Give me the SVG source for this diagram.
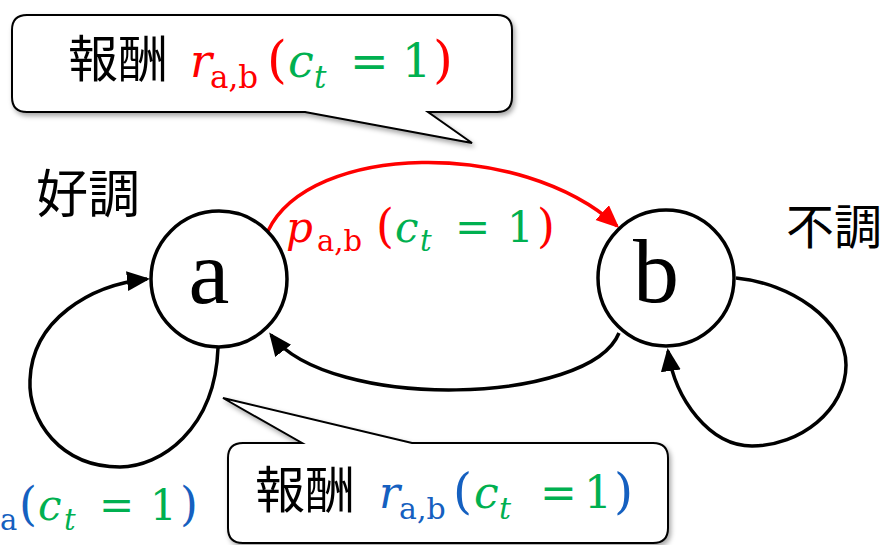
<svg xmlns="http://www.w3.org/2000/svg" width="895" height="545" viewBox="0 0 895 545">
<defs>
<style>
.node{fill:#fff;stroke:#000;stroke-width:3.5}
.lbl{font-family:"Liberation Serif",serif;fill:#000}
.jp{font-family:"Noto Sans CJK JP","Noto Sans",sans-serif;fill:#000}
.m{font-family:"DejaVu Serif","Liberation Serif",serif}
.it{font-style:italic}
.red{fill:#FF0000}.grn{fill:#00B050}.blu{fill:#1560C0}
.edge{fill:none;stroke:#000;stroke-width:3.5}
.callout{fill:#fff;stroke:#000;stroke-width:2;filter:url(#sh)}
</style>
<filter id="sh" x="-10%" y="-10%" width="125%" height="135%">
<feDropShadow dx="2" dy="3" stdDeviation="2.5" flood-color="#000" flood-opacity="0.35"/>
</filter>
<marker id="ab" markerUnits="userSpaceOnUse" markerWidth="26" markerHeight="22" refX="20" refY="10" orient="auto">
<path d="M0,0 L23,10 L0,20 z" fill="#000"/>
</marker>
<marker id="ar" markerUnits="userSpaceOnUse" markerWidth="26" markerHeight="22" refX="20" refY="10" orient="auto">
<path d="M0,0 L23,10 L0,20 z" fill="#FF0000"/>
</marker>
</defs>
<rect width="895" height="545" fill="#fff"/>

<g id="connectors">
<path id="e-ab" d="M268 231 C310 143 520 138 617 226" fill="none" stroke="#FF0000" stroke-width="3.5" marker-end="url(#ar)"/>
<path id="e-ba" class="edge" d="M619 333 C590 405 330 412 271 335" marker-end="url(#ab)"/>
<path id="e-aa" class="edge" d="M218 348 C215 430 160 467 120 467 C60 467 28 420 30 380 C32 320 90 285 147 279" marker-end="url(#ab)"/>
<path id="e-bb" class="edge" d="M736 278 C790 283 846 320 846 365 C846 410 800 446 752 446 C710 446 675 400 668 351" marker-end="url(#ab)"/>
</g>

<g id="node-a">
<circle class="node" cx="219" cy="279" r="68"/>
<text class="lbl" x="209" y="303" font-size="92" text-anchor="middle">a</text>
</g>
<g id="node-b">
<circle class="node" cx="666" cy="278" r="68"/>
<text class="lbl" x="656" y="302" font-size="92" text-anchor="middle">b</text>
</g>

<g id="label-good"><text class="jp" x="36" y="213" font-size="52">好調</text></g>
<g id="label-bad"><text class="jp" x="786" y="244" font-size="48">不調</text></g>

<g id="label-pab">
<text class="m" font-size="42">
<tspan class="it red" x="286" y="242">p</tspan><tspan class="red" x="317" y="251" font-size="29">a,b</tspan><tspan class="red" x="376" y="242" font-size="46">(</tspan><tspan class="it grn" x="395" y="242">c</tspan><tspan class="it grn" x="420" y="251" font-size="29">t</tspan><tspan class="grn" x="455" y="242">=</tspan><tspan class="grn" x="507" y="242">1</tspan><tspan class="red" x="537" y="242" font-size="46">)</tspan>
</text>
</g>

<g id="label-aa">
<text class="m" font-size="42">
<tspan class="blu" x="0" y="530" font-size="29">a</tspan><tspan class="blu" x="19" y="520" font-size="46">(</tspan><tspan class="it grn" x="38" y="520">c</tspan><tspan class="it grn" x="64" y="530" font-size="29">t</tspan><tspan class="grn" x="99" y="520">=</tspan><tspan class="grn" x="150" y="520">1</tspan><tspan class="blu" x="180" y="520" font-size="46">)</tspan>
</text>
</g>

<g id="callout-top">
<path class="callout" d="M27 15 H497 Q512 15 512 30 V97 Q512 112 497 112 H428 L472 143 L305 112 H27 Q12 112 12 97 V30 Q12 15 27 15 Z"/>
<text class="jp" x="68" y="77" font-size="50">報酬</text>
<text class="m" font-size="46">
<tspan class="it red" x="190" y="77">r</tspan><tspan class="red" x="210" y="88" font-size="31">a,b</tspan><tspan class="red" x="267" y="77" font-size="51">(</tspan><tspan class="it grn" x="288" y="77">c</tspan><tspan class="it grn" x="314" y="88" font-size="31">t</tspan><tspan class="grn" x="350" y="77">=</tspan><tspan class="grn" x="402" y="77">1</tspan><tspan class="red" x="433" y="77" font-size="51">)</tspan>
</text>
</g>

<g id="callout-bottom">
<path class="callout" d="M243 443 H302 L223 398 L412 443 H653 Q668 443 668 458 V528 Q668 543 653 543 H243 Q228 543 228 528 V458 Q228 443 243 443 Z"/>
<text class="jp" x="255" y="508" font-size="50">報酬</text>
<text class="m" font-size="44">
<tspan class="it blu" x="379" y="508">r</tspan><tspan class="blu" x="399" y="519" font-size="30">a,b</tspan><tspan class="blu" x="453" y="508" font-size="49">(</tspan><tspan class="it grn" x="474" y="508">c</tspan><tspan class="it grn" x="499" y="519" font-size="30">t</tspan><tspan class="grn" x="540" y="508">=</tspan><tspan class="grn" x="584" y="508">1</tspan><tspan class="blu" x="614" y="508" font-size="49">)</tspan>
</text>
</g>
</svg>
